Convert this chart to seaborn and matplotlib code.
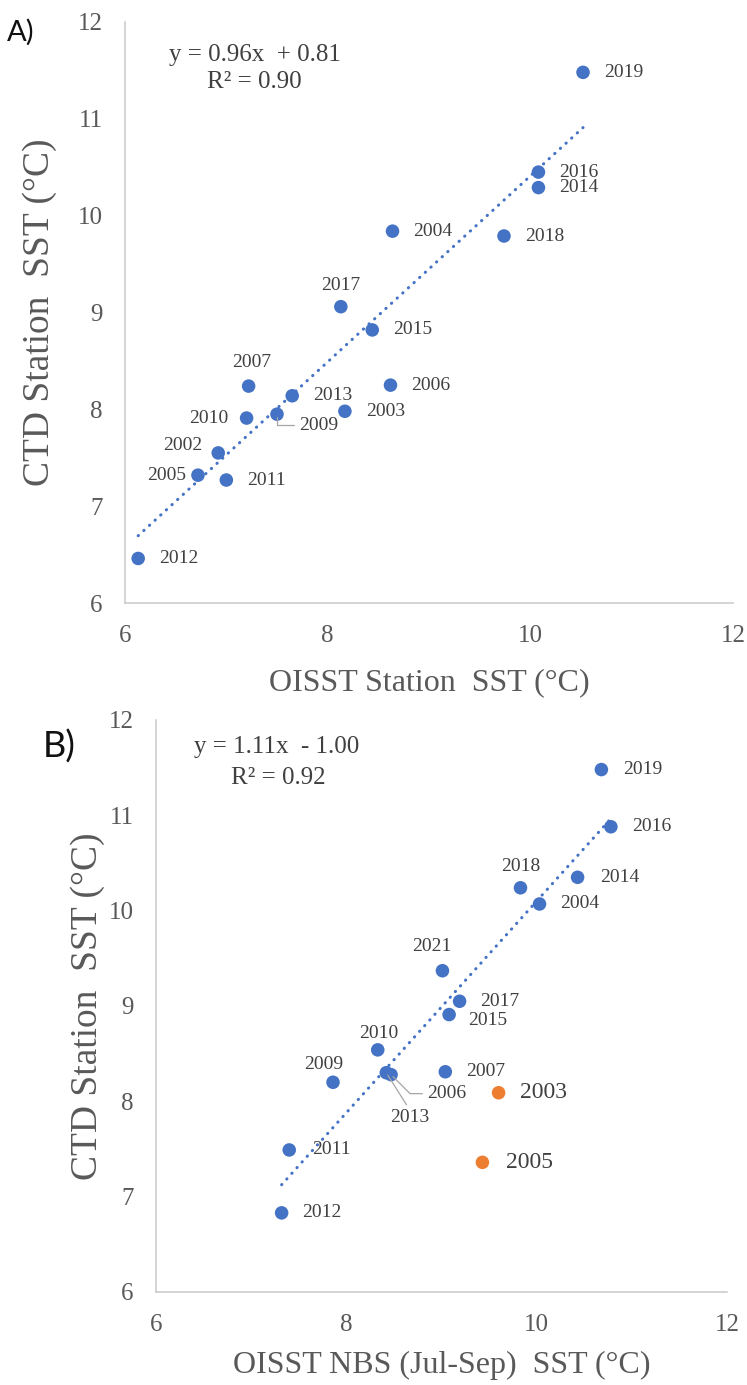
import numpy as np
import pandas as pd
import matplotlib
matplotlib.use("Agg")
import matplotlib.pyplot as plt
import seaborn as sns

# ---------------- data ----------------
# Panel A: OISST station SST vs CTD station SST
years_a = ["2019", "2016", "2014", "2004", "2018", "2017", "2015", "2007", "2006",
           "2013", "2010", "2009", "2003", "2002", "2005", "2011", "2012"]
oisst_a = [10.52, 10.08, 10.08, 8.64, 9.74, 8.13, 8.44, 7.22, 8.62,
           7.65, 7.20, 7.50, 8.17, 6.92, 6.72, 7.00, 6.13]
ctd_a = [11.48, 10.45, 10.29, 9.84, 9.79, 9.06, 8.82, 8.24, 8.25,
         8.14, 7.91, 7.95, 7.98, 7.55, 7.32, 7.27, 6.46]
slope_a, intercept_a = 0.96, 0.81
eq_a = ["y = 0.96x  + 0.81", "R\u00b2 = 0.90"]

# Panel B: OISST NBS (Jul-Sep) SST vs CTD station SST
years_b = ["2019", "2016", "2014", "2018", "2004", "2021", "2017", "2015", "2010",
           "2009", "2013", "2006", "2007", "2003", "2011", "2005", "2012"]
oisst_b = [10.68, 10.78, 10.43, 9.83, 10.03, 9.01, 9.19, 9.08, 8.33,
           7.86, 8.42, 8.47, 9.04, 9.60, 7.40, 9.43, 7.32]
ctd_b = [11.48, 10.88, 10.35, 10.24, 10.07, 9.37, 9.05, 8.91, 8.54,
         8.20, 8.30, 8.28, 8.31, 8.09, 7.49, 7.36, 6.83]
group_b = ["fit", "fit", "fit", "fit", "fit", "fit", "fit", "fit", "fit",
           "fit", "fit", "fit", "fit", "excluded", "fit", "excluded", "fit"]
slope_b, intercept_b = 1.11, -1.00
eq_b = ["y = 1.11x  - 1.00", "R\u00b2 = 0.92"]

x_ticks = [6, 8, 10, 12]
y_ticks = [6, 7, 8, 9, 10, 11, 12]

# ---------------- label placement (pixels: dx right, dy down) ----------------
R = (21, 0, "left", "center")
place_a = {
    "2019": R, "2016": R, "2014": R, "2004": R, "2018": R, "2015": R, "2006": R,
    "2003": R, "2011": R, "2012": R, "2013": (21, 0, "left", "center"),
    "2017": (0, -21, "center", "center"),
    "2007": (3, -24, "center", "center"),
    "2010": (-18, 0, "right", "center"),
    "2002": (-16, -7, "right", "center"),
    "2005": (-12, 0, "right", "center"),
}
leader_a = {"2009": (22, 11)}

place_b = {
    "2019": (22, 0, "left", "center"), "2016": R, "2014": (23, 0, "left", "center"),
    "2004": R, "2017": R, "2007": R, "2003": R, "2012": R,
    "2011": (23, 0, "left", "center"), "2005": (24, 0, "left", "center"),
    "2015": (19, 6, "left", "center"),
    "2018": (0, -21, "center", "center"),
    "2021": (-11, -24, "center", "center"),
    "2010": (1, -16, "center", "center"),
    "2009": (-9, -18, "center", "center"),
}
leader_b = {"2006": (36, 19, "angle"), "2013": (23, 45, "straight")}

BLUE = "#4472C4"
ORANGE = "#ED7D31"
GREY_TXT = "#595959"
LBL_TXT = "#404040"
SPINE = "#C9C9C9"

sns.set_theme(style="white")
plt.rcParams["font.family"] = ["Liberation Serif", "DejaVu Serif"]

W, H = 747, 1385
fig = plt.figure(figsize=(W / 100, H / 100), dpi=100)


def px_axes(left, top, right, bottom):
    return fig.add_axes([left / W, 1 - bottom / H, (right - left) / W, (bottom - top) / H])


def style_axes(ax, xlabel, ylabel, xl_coords, yl_coords):
    ax.set_xlim(6, 12)
    ax.set_ylim(6, 12)
    ax.set_xticks(x_ticks)
    ax.set_yticks(y_ticks)
    ax.tick_params(length=0, pad=16, labelsize=18, labelcolor=GREY_TXT)
    for s in ["top", "right"]:
        ax.spines[s].set_visible(False)
    for s in ["left", "bottom"]:
        ax.spines[s].set_color(SPINE)
        ax.spines[s].set_linewidth(1.1)
    ax.grid(False)
    ax.set_xlabel(xlabel, fontsize=23, color=GREY_TXT)
    ax.set_ylabel(ylabel, fontsize=27, color=GREY_TXT)
    ax.xaxis.set_label_coords(*xl_coords)
    ax.xaxis.label.set_va("center")
    ax.yaxis.set_label_coords(*yl_coords)
    ax.yaxis.label.set_va("center")


def trend(ax, xs, slope, intercept):
    xx = np.array([min(xs), max(xs)])
    sns.lineplot(x=xx, y=slope * xx + intercept, ax=ax, color=BLUE, lw=2.2,
                 linestyle=(0, (0.1, 2.4)), dash_capstyle="round", zorder=3)
    ax.lines[-1].set_dash_capstyle("round")


def labels(ax, years, xs, ys, place, sizes=None):
    for i, (yr, x, y) in enumerate(zip(years, xs, ys)):
        if yr not in place:
            continue
        dx, dy, ha, va = place[yr]
        fs = 14 if sizes is None else sizes[i]
        ax.annotate(yr, (x, y), xytext=(dx * 0.72, -dy * 0.72), textcoords="offset points",
                    ha=ha, va=va, fontsize=fs, color=LBL_TXT, zorder=5)


# ---------------- Panel A ----------------
axA = px_axes(125, 22, 733, 603)
dfa = pd.DataFrame({"year": years_a, "oisst": oisst_a, "ctd": ctd_a})
sns.scatterplot(data=dfa, x="oisst", y="ctd", ax=axA, color=BLUE, s=95,
                edgecolor="none", zorder=2)
trend(axA, oisst_a, slope_a, intercept_a)
labels(axA, years_a, oisst_a, ctd_a, place_a)
for yr, (dx, dy) in leader_a.items():
    i = years_a.index(yr)
    axA.annotate(yr, (oisst_a[i], ctd_a[i]), xytext=(dx * 0.72, -dy * 0.72),
                 textcoords="offset points", ha="left", va="center", fontsize=14,
                 color=LBL_TXT, zorder=5,
                 arrowprops=dict(arrowstyle="-", color="#A6A6A6", lw=0.9,
                                 shrinkA=1, shrinkB=2, relpos=(0, 0.5),
                                 connectionstyle="angle,angleA=0,angleB=90,rad=0"))
style_axes(axA, "OISST Station  SST (\u00b0C)", "CTD Station  SST (\u00b0C)",
           (0.5, -0.138), (-0.14, 0.5))

# ---------------- Panel B ----------------
axB = px_axes(156, 720, 727, 1292)
dfb = pd.DataFrame({"year": years_b, "oisst": oisst_b, "ctd": ctd_b, "group": group_b})
sns.scatterplot(data=dfb, x="oisst", y="ctd", hue="group", ax=axB, s=95,
                palette={"fit": BLUE, "excluded": ORANGE}, edgecolor="none",
                legend=False, zorder=2)
fit_x = [x for x, g in zip(oisst_b, group_b) if g == "fit"]
trend(axB, fit_x, slope_b, intercept_b)
sizes_b = [17 if g == "excluded" else 14 for g in group_b]
labels(axB, years_b, oisst_b, ctd_b, place_b, sizes_b)
for yr, (dx, dy, kind) in leader_b.items():
    i = years_b.index(yr)
    if kind == "angle":
        ap = dict(arrowstyle="-", color="#A6A6A6", lw=0.9, shrinkA=1, shrinkB=2,
                  relpos=(0, 0.5), connectionstyle="angle,angleA=0,angleB=-45,rad=0")
        ha, va = "left", "center"
    else:
        ap = dict(arrowstyle="-", color="#A6A6A6", lw=0.9, shrinkA=1, shrinkB=2,
                  relpos=(0.5, 1))
        ha, va = "center", "center"
    axB.annotate(yr, (oisst_b[i], ctd_b[i]), xytext=(dx * 0.72, -dy * 0.72),
                 textcoords="offset points", ha=ha, va=va, fontsize=14,
                 color=LBL_TXT, zorder=5, arrowprops=ap)
style_axes(axB, "OISST NBS (Jul-Sep)  SST (\u00b0C)", "CTD Station  SST (\u00b0C)",
           (0.5, -0.128), (-0.119, 0.5))

# ---------------- texts ----------------
def ftext(x, y, s, **kw):
    fig.text(x / W, 1 - y / H, s, **kw)

ftext(255, 55, eq_a[0], ha="center", va="center", fontsize=18, color=LBL_TXT)
ftext(254, 82, eq_a[1], ha="center", va="center", fontsize=18, color=LBL_TXT)
ftext(277, 747, eq_b[0], ha="center", va="center", fontsize=18, color=LBL_TXT)
ftext(278, 778, eq_b[1], ha="center", va="center", fontsize=18, color=LBL_TXT)
ftext(35, 32, "A)", ha="right", va="center", fontsize=21, color="#111111",
      family=["Lato", "DejaVu Sans"])
ftext(59, 747, "B)", ha="center", va="center", fontsize=26, color="#111111",
      family=["Lato", "DejaVu Sans"])

fig.savefig("out.png", dpi=100)
